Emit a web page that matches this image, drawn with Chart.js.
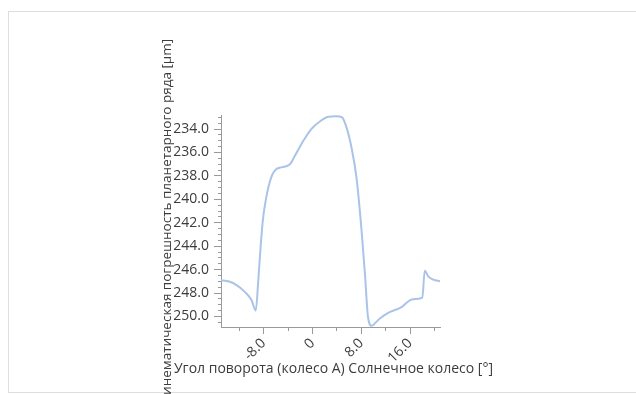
<!DOCTYPE html>
<html>
<head>
<meta charset="utf-8">
<script src="https://cdn.jsdelivr.net/npm/chart.js@4"></script>
<style>
  html, body { margin: 0; padding: 0; background: #fff; overflow: hidden; }
  #frame {
    position: absolute; left: 8px; top: 11px; width: 700px; height: 382px;
    border: 1px solid #dedede; box-sizing: border-box;
  }
  #wrap { position: absolute; left: 0; top: 0; width: 636px; height: 394px; }
</style>
</head>
<body>
<div id="frame"></div>
<div id="wrap"><canvas id="chart"></canvas></div>
<script>
  // rotation angle of wheel A, degrees
  const angles = [
    -15.0, -13.8, -12.5, -11.1, -10.0, -9.3, -8.9, -8.5, -8.1, -7.6,
    -7.1, -6.6, -6.0, -5.4, -3.7, -2.9, -1.5, -0.2, 1.2, 2.6,
    3.9, 4.85, 5.6, 6.4, 7.2, 8.0, 8.6, 9.1, 9.7, 10.0,
    11.0, 12.4, 14.6, 16.0, 17.0, 18.0, 18.4, 19.0, 19.8, 20.9,
  ];
  // kinematic error, um
  const errors = [
    246.9, 247.0, 247.3, 247.9, 248.6, 249.5, 247.0, 244.0, 241.6, 239.9,
    238.7, 237.9, 237.45, 237.3, 237.0, 236.3, 235.0, 234.0, 233.35, 232.95,
    232.9, 233.0, 233.9, 235.6, 238.1, 242.4, 246.4, 250.06, 250.8, 250.7,
    250.2, 249.7, 249.2, 248.6, 248.5, 248.4, 246.1, 246.6, 246.85, 247.0,
  ];

  const xMajorTicks = [-8, 0, 8, 16];
  const xMinorTicks = [-12, -4, 4, 12, 20];
  const yMajorTicks = [234, 236, 238, 240, 242, 244, 246, 248, 250];
  const yMinorTicks = [];
  for (let v = 233; v <= 250.5; v += 0.5) yMinorTicks.push(v);

  const xTitle = 'Угол поворота (колесо А) Солнечное колесо [°]';
  const yTitle = 'Кинематическая погрешность планетарного ряда [μm]';

  const textColor = '#3c3c3c';
  const axisColor = '#9a9a9a';
  const titleFont = { family: "'Open Sans', sans-serif", size: 13.5 };
  const tickFont = { family: "'Open Sans', sans-serif", size: 14 };

  const xMin = -15;
  const xMax = 20.9;
  const yMin = 232.8;
  const yMax = 250.9;

  // chart.js squeezes a bottom axis title to the axis width; the original runs wider
  const xTitlePlugin = {
    id: 'xTitle',
    afterDraw(chart) {
      const { ctx, chartArea } = chart;
      ctx.save();
      ctx.font = `14px ${titleFont.family}`;
      ctx.fillStyle = textColor;
      ctx.textAlign = 'center';
      ctx.textBaseline = 'middle';
      ctx.fillText(xTitle, (chartArea.left + chartArea.right) / 2 + 3, chartArea.bottom + 42);
      ctx.restore();
    },
  };

  const data = {
    datasets: [{
      data: angles.map((a, i) => ({ x: a, y: errors[i] })),
      borderColor: '#aac3e8',
      borderWidth: 2,
      pointRadius: 0,
      cubicInterpolationMode: 'monotone',
      xAxisID: 'x',
      yAxisID: 'y',
    }],
  };

  const config = {
    type: 'line',
    data,
    plugins: [xTitlePlugin],
    options: {
      animation: false,
      responsive: true,
      maintainAspectRatio: false,
      layout: { padding: { left: 159, top: 115, right: 196, bottom: 16 } },
      plugins: { legend: { display: false }, tooltip: { enabled: false } },
      scales: {
        x: {
          type: 'linear', position: 'bottom', weight: 1,
          min: xMin, max: xMax,
          afterBuildTicks: (scale) => { scale.ticks = xMajorTicks.map((v) => ({ value: v })); },
          afterCalculateLabelRotation: (scale) => { scale.labelRotation = 45; },
          afterFit: (scale) => { scale.height = 51; },
          border: { display: true, color: axisColor, width: 1 },
          grid: { drawOnChartArea: false, drawTicks: true, tickLength: 7, tickColor: axisColor },
          ticks: {
            color: textColor, font: tickFont, padding: 1, autoSkip: false,
            callback: (v) => (v === 0 ? '0' : v.toFixed(1)),
          },
        },
        x2: {
          type: 'linear', position: 'bottom', weight: 0,
          min: xMin, max: xMax,
          afterBuildTicks: (scale) => { scale.ticks = xMinorTicks.map((v) => ({ value: v })); },
          afterFit: (scale) => { scale.height = 0; },
          border: { display: false },
          grid: { drawOnChartArea: false, drawTicks: true, tickLength: 4, tickColor: axisColor },
          ticks: { display: false },
        },
        y: {
          type: 'linear', position: 'left', weight: 1, reverse: true,
          min: yMin, max: yMax,
          afterBuildTicks: (scale) => { scale.ticks = yMajorTicks.map((v) => ({ value: v })); },
          afterFit: (scale) => { scale.width = 62; },
          border: { display: true, color: axisColor, width: 1 },
          grid: { drawOnChartArea: false, drawTicks: true, tickLength: 7, tickColor: axisColor },
          ticks: { color: textColor, font: tickFont, padding: 5, callback: (v) => v.toFixed(1) },
          title: { display: true, text: yTitle, color: textColor, font: titleFont, padding: 0 },
        },
        y2: {
          type: 'linear', position: 'left', weight: 0, reverse: true,
          min: yMin, max: yMax,
          afterBuildTicks: (scale) => { scale.ticks = yMinorTicks.map((v) => ({ value: v })); },
          afterFit: (scale) => { scale.width = 0; },
          border: { display: false },
          grid: { drawOnChartArea: false, drawTicks: true, tickLength: 3, tickColor: axisColor },
          ticks: { display: false },
        },
      },
    },
  };

  const myChart = new Chart(document.getElementById('chart'), config);
</script>
</body>
</html>
